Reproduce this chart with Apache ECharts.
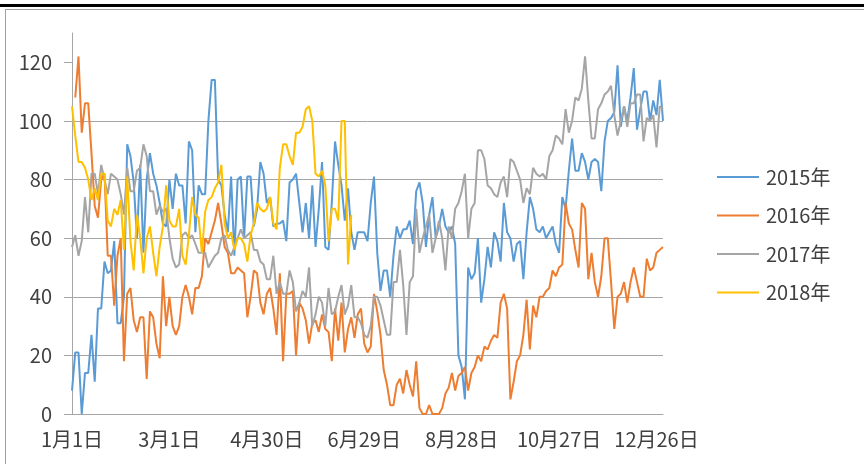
<!DOCTYPE html>
<html style="height: 100%">
<head>
<meta charset="UTF-8" />
<title>2015-2018年 每日数据</title>
<style>
body { margin: 0; background: #ffffff; }
#chartBox { position: absolute; left: 0; top: 0; width: 864px; height: 464px; }
.rule { position: absolute; pointer-events: none; }
</style>
</head>
<body>
	<div id="chartBox"></div>
	<div class="rule" style="left:0;top:4px;width:864px;height:3px;background:#000;"></div>
	<div class="rule" style="left:5px;top:9px;width:859px;height:1px;background:#a0a0a0;"></div>
	<div class="rule" style="left:5px;top:9px;width:1px;height:455px;background:#a0a0a0;"></div>

	<script src="https://cdn.jsdelivr.net/npm/echarts@6/dist/echarts.min.js"></script>
	<script>
		// 日期（闰年, 每两天一个点）
		var days = [];
		for (var i = 0; i < 183; i++) {
			var dt = new Date(2016, 0, 1 + i * 2);
			days.push((dt.getMonth() + 1) + '月' + dt.getDate() + '日');
		}
		var yTicks = [0, 20, 40, 60, 80, 100, 120];
		var seriesNames = ['2015年', '2016年', '2017年', '2018年'];

		var s2015 = [8,21,21,0,14,14,27,11,36,36,52,48,49,59,31,31,40,92,88,79,60,85,55,80,89,82,78,72,65,
			64,80,70,82,78,78,65,93,90,62,78,75,75,100,114,114,80,78,68,62,81,54,80,81,60,81,81,64,70,86,82,72,
			74,64,65,65,66,59,79,80,82,72,62,72,60,78,57,70,86,57,56,72,93,85,78,66,77,62,56,62,62,62,59,72,81,
			55,42,49,49,40,54,64,60,63,63,66,58,76,79,72,57,68,74,60,64,70,64,62,64,58,20,16,5,50,46,48,60,
			38,46,57,50,62,59,52,72,62,60,52,58,59,46,62,74,70,63,62,64,60,62,64,58,55,74,70,83,94,83,83,89,
			86,80,86,87,86,76,93,100,101,103,119,98,105,100,108,118,97,104,110,110,100,107,102,114,100];
		var s2016 = [null,108,122,96,106,106,89,71,67,80,82,54,54,37,54,60,18,41,43,32,28,33,33,12,35,33,24,19,47,
			30,40,30,27,30,40,44,40,34,43,43,47,60,58,62,66,72,65,57,55,48,48,50,49,48,33,40,49,48,38,34,41,
			43,36,27,48,18,41,41,42,20,38,36,32,24,31,32,28,34,29,28,18,36,25,38,21,29,33,26,34,36,24,21,23,41,
			35,27,15,10,3,3,10,12,7,15,10,6,18,2,0,0,3,0,0,0,2,7,9,14,8,13,14,16,8,14,16,20,
			18,23,22,25,27,26,38,41,36,5,11,18,20,27,39,22,37,33,40,40,42,43,49,47,50,51,72,65,63,56,50,72,
			70,46,55,45,40,47,60,60,45,29,40,41,45,38,45,50,45,40,40,53,49,50,55,56,57];
		var s2017 = [57,61,54,59,74,62,82,82,75,85,80,75,82,81,80,75,68,84,76,76,83,84,92,88,76,76,68,71,69,
			70,60,53,50,51,61,62,60,61,58,55,55,55,50,52,54,55,60,61,56,54,57,60,63,60,61,62,56,56,52,51,46,
			46,54,41,45,41,41,49,45,35,38,42,40,50,30,34,40,38,30,43,34,35,40,44,34,37,44,33,33,31,27,26,30,40,
			40,37,32,27,27,45,45,56,44,27,45,47,70,55,60,64,68,55,60,66,60,49,64,60,70,72,76,82,60,70,72,90,
			90,87,78,77,75,74,79,81,74,87,86,83,80,72,77,75,84,82,81,82,80,88,90,95,94,92,104,96,100,108,107,111,
			122,107,94,94,104,106,109,110,112,102,95,100,105,98,106,106,109,109,93,101,100,102,91,105,104];
		var s2018 = [105,95,86,86,84,80,73,77,73,82,82,66,64,70,68,73,56,81,59,49,68,60,48,60,64,55,47,57,64,
			78,66,64,64,70,54,51,61,74,68,67,55,69,73,74,77,79,85,65,60,62,56,60,60,58,52,61,65,72,70,69,70,
			74,65,63,84,92,92,88,85,96,96,98,104,105,100,82,81,83,78,59,70,70,66,100,100,51,68];
		while (s2018.length < days.length) s2018.push(null);

		var colors = ['#5B9BD5', '#ED7D31', '#A5A5A5', '#FFC000'];
		var fontName = 'Noto Sans CJK SC';
		var gridColor = '#a6a6a6';
		var textColor = '#404040';

		var myChart = echarts.init(document.getElementById('chartBox'), null, { renderer: 'canvas' });
		var values = [s2015, s2016, s2017, s2018];
		var series = [];
		for (var k = 0; k < values.length; k++) {
			series.push({
				name : seriesNames[k],
				type : 'line',
				data : values[k],
				symbol : 'none',
				showSymbol : false,
				connectNulls : false,
				animation : false,
				lineStyle : { width : 2, color : colors[k] },
				itemStyle : { color : colors[k] }
			});
		}

		var option = {
			backgroundColor : '#ffffff',
			color : colors,
			textStyle : { fontFamily : fontName },
			grid : { left : 72, right : 201, top : 33, bottom : 50 },
			legend : {
				orient : 'vertical',
				left : 712,
				top : 162,
				icon : 'rect',
				itemWidth : 42,
				itemHeight : 2,
				itemGap : 18.5,
				data : seriesNames,
				textStyle : { fontSize : 20, color : textColor, fontFamily : fontName, lineHeight : 20, padding : [0, 0, 0, 2] }
			},
			xAxis : {
				type : 'category',
				data : days,
				boundaryGap : false,
				axisLine : { lineStyle : { color : gridColor, width : 1 } },
				axisTick : { show : false },
				axisLabel : { interval : 29, fontSize : 20, color : textColor, margin : 15, fontFamily : fontName },
				splitLine : { show : false }
			},
			yAxis : {
				type : 'value',
				min : 0,
				max : 130,
				interval : 20,
				axisLine : { show : true, lineStyle : { color : gridColor, width : 1 } },
				axisTick : { show : true, length : 8, customValues : yTicks, lineStyle : { color : gridColor } },
				axisLabel : { customValues : yTicks, fontSize : 20, color : textColor, margin : 20, fontFamily : fontName },
				splitLine : { show : true, showMaxLine : false, lineStyle : { color : gridColor, width : 1 } }
			},
			series : series
		};
		myChart.setOption(option);
	</script>
</body>
</html>
